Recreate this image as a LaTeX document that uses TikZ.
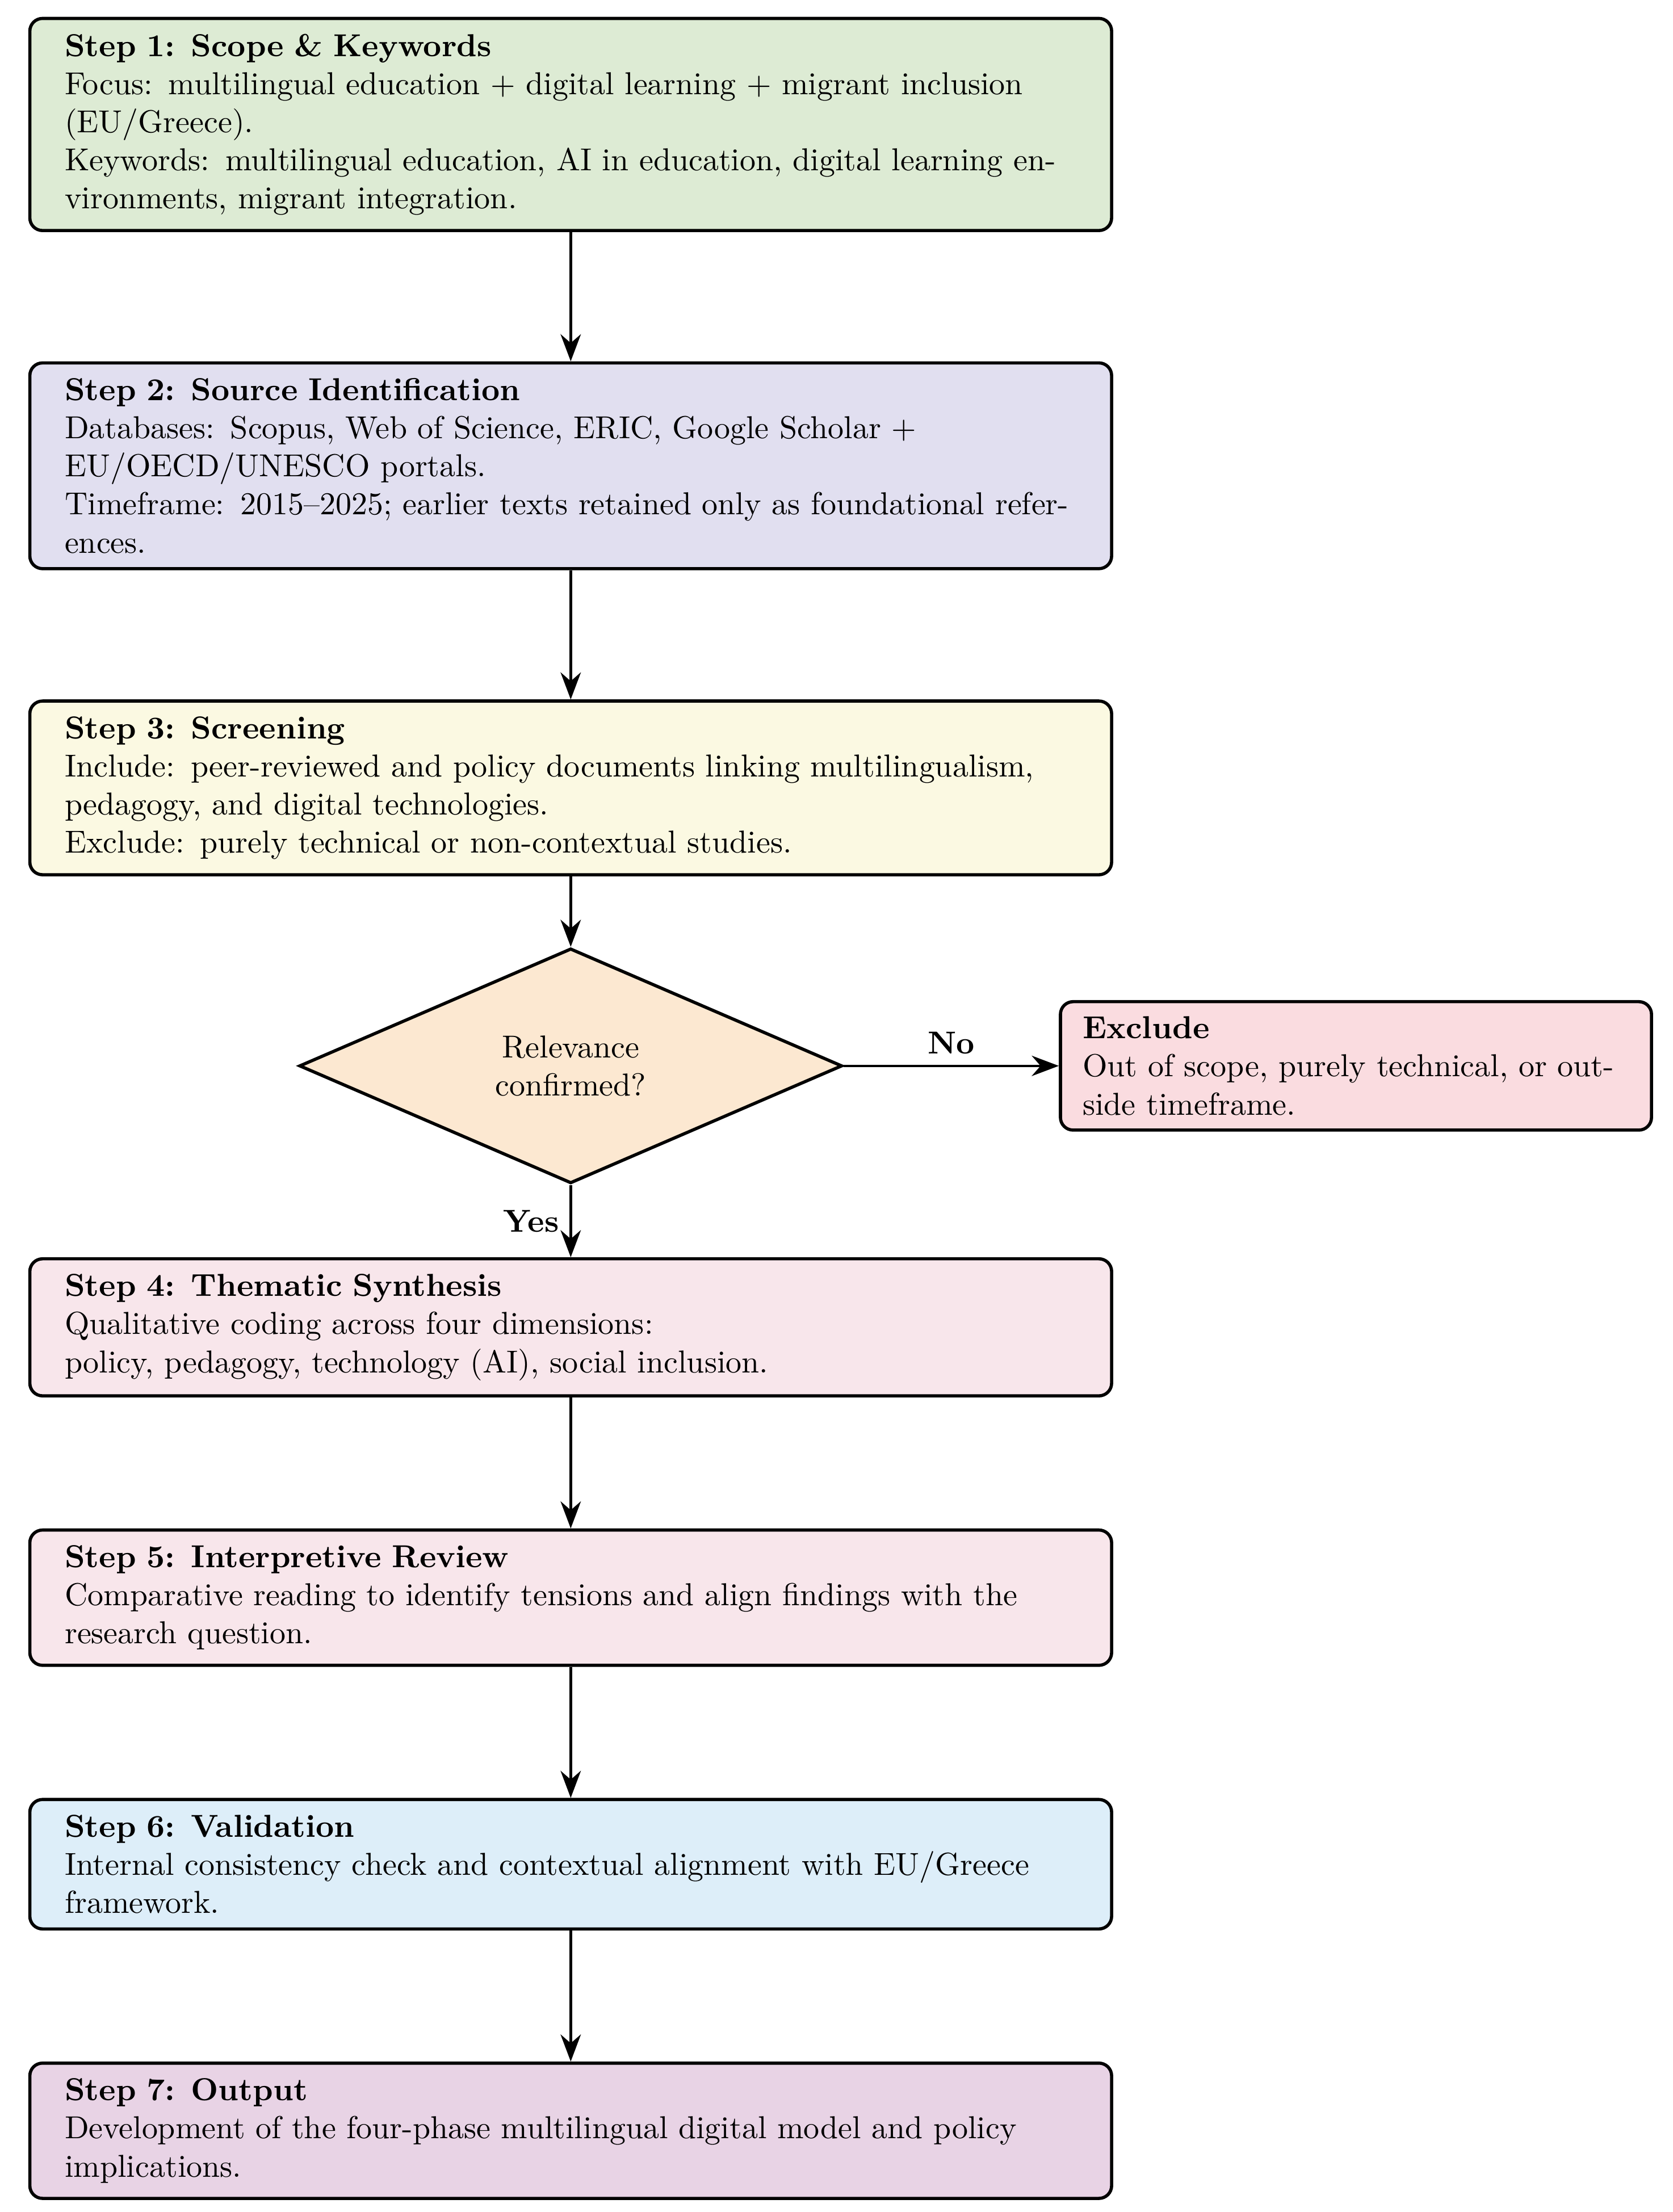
\documentclass[tikz,border=0pt]{standalone}
\usepackage{amsmath}
\usepackage{amssymb}
\usetikzlibrary{arrows.meta}
\usetikzlibrary{positioning}
\usetikzlibrary{shapes.geometric}
\definecolor{scopegreen}{HTML}{DDEBD4}
\definecolor{sourcelav}{HTML}{E1DFF0}
\definecolor{screenyel}{HTML}{FBF9E2}
\definecolor{relpeach}{HTML}{FCE8D1}
\definecolor{exclpink}{HTML}{FADCE0}
\definecolor{synthpink}{HTML}{F8E6EB}
\definecolor{validblue}{HTML}{DDEEF9}
\definecolor{outpurple}{HTML}{E8D3E5}

\begin{document}
\begin{tikzpicture}[
	stepbox/.style={draw, line width=1pt, rounded corners=4pt, text width=11.2cm, align=left, inner xsep=11pt, inner ysep=4.85pt},
	sidebox/.style={draw, line width=1pt, rounded corners=4pt, text width=6.05cm, align=left, inner xsep=7pt, inner ysep=4.7pt},
	decision/.style={diamond, draw, line width=1pt, aspect=2.33, minimum width=171pt, minimum height=74pt, inner sep=0pt, align=center},
	arrow/.style={thick, -{Stealth[length=3mm]}},
	node distance=1.43cm]
	\node[stepbox, fill=scopegreen] (s1) at (0,0) {\textbf{Step 1: Scope \& Keywords}\\
		Focus: multilingual education $+$ digital learning $+$ migrant inclusion (EU/Greece).\\
		Keywords: multilingual education, AI in education, digital learning environments, migrant integration.};
	\node[stepbox, fill=sourcelav, below=of s1] (s2) {\textbf{Step 2: Source Identification}\\
		Databases: Scopus, Web of Science, ERIC, Google Scholar $+$ EU/OECD/UNESCO portals.\\
		Timeframe: 2015--2025; earlier texts retained only as foundational references.};
	\node[stepbox, fill=screenyel, below=of s2] (s3) {\textbf{Step 3: Screening}\\
		Include: peer-reviewed and policy documents linking multilingualism, pedagogy, and digital technologies.\\
		Exclude: purely technical or non-contextual studies.};
	\node[decision, fill=relpeach, below=0.78cm of s3] (rel) {Relevance\\confirmed?};
	\node[sidebox, fill=exclpink, right=2.38cm of rel] (excl) {\textbf{Exclude}\\
		Out of scope, purely technical, or outside timeframe.};
	\node[stepbox, fill=synthpink, below=0.8cm of rel] (s4) {\textbf{Step 4: Thematic Synthesis}\\
		Qualitative coding across four dimensions:\\
		policy, pedagogy, technology (AI), social inclusion.};
	\node[stepbox, fill=synthpink, below=1.45cm of s4] (s5) {\textbf{Step 5: Interpretive Review}\\
		Comparative reading to identify tensions and align findings with the research question.};
	\node[stepbox, fill=validblue, below=1.45cm of s5] (s6) {\textbf{Step 6: Validation}\\
		Internal consistency check and contextual alignment with EU/Greece framework.};
	\node[stepbox, fill=outpurple, below=1.45cm of s6] (s7) {\textbf{Step 7: Output}\\
		Development of the four-phase multilingual digital model and policy implications.};

	% connectors
	\draw[arrow] (s1) -- (s2);
	\draw[arrow] (s2) -- (s3);
	\draw[arrow] (s3) -- (rel);
	\draw[arrow] (rel) -- (excl) node[midway, above] {\textbf{No}};
	\draw[arrow] (rel) -- (s4) node[midway, left] {\textbf{Yes}};
	\draw[arrow] (s4) -- (s5);
	\draw[arrow] (s5) -- (s6);
	\draw[arrow] (s6) -- (s7);

	\pgfresetboundingbox
	\useasboundingbox ([xshift=-8.9pt, yshift=5.3pt]s1.north west) rectangle ++(526.7pt,-696.7pt);
\end{tikzpicture}
\end{document}
